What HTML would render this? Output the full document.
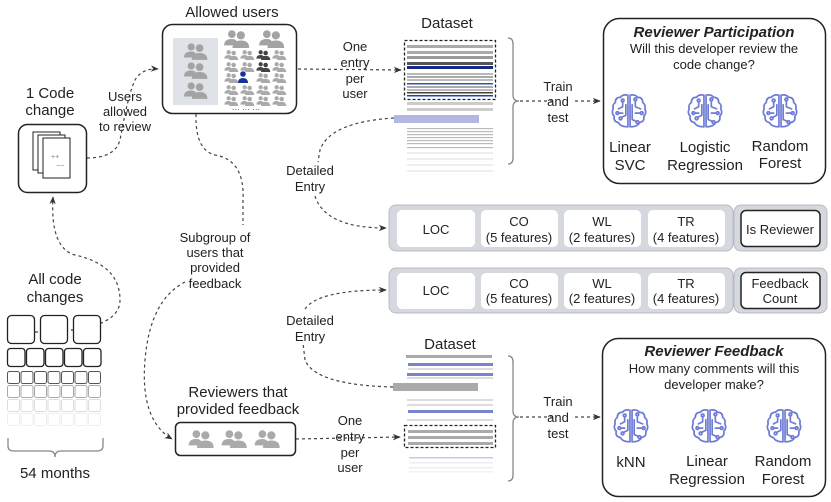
<!DOCTYPE html>
<html><head><meta charset="utf-8"><style>
html,body{margin:0;padding:0;background:#fff}
svg{display:block}
text{font-family:"Liberation Sans",Arial,sans-serif;fill:#222}
</style></head><body>
<svg width="831" height="502" viewBox="0 0 831 502" xmlns="http://www.w3.org/2000/svg">
<defs>
<symbol id="pp" viewBox="0 0 20 14">
<circle cx="6" cy="3.2" r="3" fill="currentColor"/>
<path d="M0 12 Q0 7 6 7 Q9 7 10 9 L10 12Z" fill="currentColor"/>
<circle cx="13" cy="4.2" r="3.2" fill="currentColor"/>
<path d="M6.5 14 Q6.5 8.2 13 8.2 Q19.5 8.2 19.5 14Z" fill="currentColor"/>
</symbol>
<symbol id="br" viewBox="0 0 36 36">
<g fill="none" stroke="#6e7bd6" stroke-width="1.6" stroke-linecap="round" stroke-linejoin="round">
<path d="M17 3 Q12 2 10 5 Q5 5 5 10 Q2 12 3 16 Q1 20 4 23 Q3 28 8 29 Q10 33 17 33 Z"/>
<path d="M19 3 Q24 2 26 5 Q31 5 31 10 Q34 12 33 16 Q35 20 32 23 Q33 28 28 29 Q26 33 19 33 Z"/>
<path d="M12 9 L12 14 L8 16"/><circle cx="12" cy="8" r="1.3"/>
<path d="M15 12 L15 22 L11 24"/><circle cx="10" cy="25" r="1.3"/>
<path d="M8 20 L12 20"/><circle cx="7" cy="20" r="1.3"/>
<path d="M24 8 L24 14 L29 16"/><circle cx="24" cy="7" r="1.3"/>
<path d="M21 12 L21 26 L25 28"/><circle cx="26" cy="28.5" r="1.3"/>
<path d="M24 20 L29 20"/><circle cx="30" cy="20" r="1.3"/>
</g>
</symbol>
<marker id="ah" viewBox="0 0 10 10" refX="9" refY="5" markerWidth="8" markerHeight="8" orient="auto-start-reverse" markerUnits="userSpaceOnUse">
<path d="M0 1 L10 5 L0 9 L3 5Z" fill="#333"/>
</marker>
</defs>

<!-- dashed connectors -->
<g fill="none" stroke="#444" stroke-width="1.2" stroke-dasharray="3,3">
<path d="M87 158 Q115 158 120 140 Q128 95 135 80 Q142 68 158 69" marker-end="url(#ah)"/>
<path d="M298 69 L401 70" marker-end="url(#ah)"/>
<path d="M196 114 Q195 150 215 155 Q245 160 243 200 L243 225"/>
<path d="M35 332 Q120 332 120 300 Q120 265 75 255 Q50 248 53 197" marker-end="url(#ah)"/>
<path d="M185 282 Q150 300 145 360 Q140 420 172 439" marker-end="url(#ah)"/>
<path d="M394 118 Q330 122 320 150 L318 162"/>
<path d="M315 196 Q325 228 386 228" marker-end="url(#ah)"/>
<path d="M296 439 L400 437" marker-end="url(#ah)"/>
<path d="M393 387 Q315 385 305 360 L303 343"/>
<path d="M305 309 Q318 290 386 290" marker-end="url(#ah)"/>
<path d="M520 101 L554 101"/>
<path d="M575 101 L600 101" marker-end="url(#ah)"/>
<path d="M520 417 L554 417"/>
<path d="M575 417 L600 417" marker-end="url(#ah)"/>
</g>

<!-- 1 code change -->
<text x="50" y="98" font-size="15" text-anchor="middle">1 Code</text>
<text x="50" y="115" font-size="15" text-anchor="middle">change</text>
<rect x="18.5" y="124.5" width="68" height="68" rx="9" fill="#fff" stroke="#222" stroke-width="1.5"/>
<rect x="33" y="132" width="27" height="38" fill="#fff" stroke="#222" stroke-width="1"/>
<rect x="38" y="135" width="27" height="38" fill="#fff" stroke="#222" stroke-width="1"/>
<rect x="43" y="138" width="27" height="40" fill="#fff" stroke="#222" stroke-width="1"/>
<text x="51" y="159" font-size="7" fill="#777" style="fill:#777">++</text>
<text x="56" y="168" font-size="7" style="fill:#777">−−</text>
<text x="125" y="101" font-size="13" text-anchor="middle">Users</text>
<text x="125" y="116" font-size="13" text-anchor="middle">allowed</text>
<text x="125" y="131" font-size="13" text-anchor="middle">to review</text>

<!-- Allowed users -->
<text x="232" y="17" font-size="15" text-anchor="middle">Allowed users</text>
<rect x="162.5" y="24.5" width="134" height="89" rx="10" fill="#fff" stroke="#222" stroke-width="1.5"/>
<rect x="173" y="38" width="45" height="67" fill="#dfe2e6"/>
<g style="color:#a3a3a3">
<use href="#pp" x="184" y="43" width="24" height="17"/>
<use href="#pp" x="184" y="62" width="24" height="17"/>
<use href="#pp" x="184" y="82" width="24" height="17"/>
<use href="#pp" x="224" y="30" width="26" height="18"/>
<use href="#pp" x="259" y="30" width="26" height="18"/>
</g>
<g style="color:#aaa">
<use href="#pp" x="224" y="50" width="15" height="10"/><use href="#pp" x="240" y="50" width="15" height="10"/><use href="#pp" x="272" y="50" width="15" height="10"/>
<use href="#pp" x="224" y="62" width="15" height="10"/><use href="#pp" x="240" y="62" width="15" height="10"/><use href="#pp" x="272" y="62" width="15" height="10"/>
<use href="#pp" x="224" y="73" width="15" height="10"/><use href="#pp" x="256" y="73" width="15" height="10"/><use href="#pp" x="272" y="73" width="15" height="10"/>
<use href="#pp" x="224" y="85" width="15" height="10"/><use href="#pp" x="240" y="85" width="15" height="10"/><use href="#pp" x="256" y="85" width="15" height="10"/><use href="#pp" x="272" y="85" width="15" height="10"/>
<use href="#pp" x="224" y="96" width="15" height="10"/><use href="#pp" x="240" y="96" width="15" height="10"/><use href="#pp" x="256" y="96" width="15" height="10"/><use href="#pp" x="272" y="96" width="15" height="10"/>
</g>
<g style="color:#444">
<use href="#pp" x="256" y="50" width="15" height="10"/><use href="#pp" x="256" y="62" width="15" height="10"/>
</g>
<circle cx="243" cy="74" r="2.8" fill="#16339a"/>
<path d="M238 83 Q238 78 243 78 Q248 78 248 83Z" fill="#16339a"/>
<text x="246" y="112" font-size="8" text-anchor="middle" style="fill:#333">··· ··· ···</text>

<text x="355" y="51" font-size="13" text-anchor="middle">One</text>
<text x="355" y="67" font-size="13" text-anchor="middle">entry</text>
<text x="355" y="83" font-size="13" text-anchor="middle">per</text>
<text x="355" y="98" font-size="13" text-anchor="middle">user</text>

<!-- Dataset 1 -->
<text x="447" y="28" font-size="15" text-anchor="middle">Dataset</text>
<g>
<rect x="407" y="45" width="86" height="3" fill="#aaa"/>
<rect x="407" y="51" width="86" height="3" fill="#aaa"/>
<rect x="407" y="56" width="86" height="3" fill="#999"/>
<rect x="407" y="62" width="86" height="3" fill="#555"/>
<rect x="407" y="66" width="86" height="3" fill="#15288a"/>
<rect x="407" y="73" width="86" height="2" fill="#bbb"/>
<rect x="407" y="76" width="86" height="2" fill="#aaa"/>
<rect x="407" y="79" width="86" height="2" fill="#bbb"/>
<rect x="407" y="83" width="86" height="1.5" fill="#3050c0"/>
<rect x="407" y="86" width="86" height="2" fill="#aaa"/>
<rect x="407" y="89" width="86" height="2" fill="#bbb"/>
<rect x="407" y="92" width="86" height="1.5" fill="#444"/>
<rect x="407" y="95" width="86" height="1.5" fill="#2040b0"/>
<rect x="407" y="102" width="86" height="3" fill="#ccc"/>
<rect x="407" y="108" width="86" height="3" fill="#ccc"/>
<rect x="394" y="115" width="85" height="8" fill="#b3b8e0"/>
<rect x="407" y="128" width="86" height="1.2" fill="#bbb"/>
<rect x="407" y="131" width="86" height="1.2" fill="#bbb"/>
<rect x="407" y="134" width="86" height="1.2" fill="#bbb"/>
<rect x="407" y="137" width="86" height="1.2" fill="#b3b8e0"/>
<rect x="407" y="140" width="86" height="1.2" fill="#bbb"/>
<rect x="407" y="143" width="86" height="1.2" fill="#bbb"/>
<rect x="407" y="147" width="86" height="1.2" fill="#b3b8e0"/>
<rect x="407" y="152" width="86" height="2" fill="#eee"/>
<rect x="407" y="158" width="86" height="2" fill="#eee"/>
<rect x="407" y="164" width="86" height="2" fill="#eee"/>
<rect x="407" y="170" width="86" height="2" fill="#eee"/>
<rect x="404.5" y="40.5" width="91" height="59" fill="none" stroke="#222" stroke-width="1.3" stroke-dasharray="3,2"/>
</g>
<path d="M508 38 Q513 38 513 44 L513 95 Q513 101 519 101 Q513 101 513 107 L513 158 Q513 164 508 164" fill="none" stroke="#888" stroke-width="1.3"/>
<text x="558" y="91" font-size="13" text-anchor="middle">Train</text>
<text x="558" y="106" font-size="13" text-anchor="middle">and</text>
<text x="558" y="122" font-size="13" text-anchor="middle">test</text>

<!-- Reviewer Participation -->
<rect x="603.5" y="18.5" width="222" height="165" rx="16" fill="#fff" stroke="#222" stroke-width="1.5"/>
<text x="714" y="37" font-size="15" font-weight="bold" font-style="italic" text-anchor="middle">Reviewer Participation</text>
<text x="714" y="53" font-size="13" text-anchor="middle">Will this developer review the</text>
<text x="714" y="69" font-size="13" text-anchor="middle">code change?</text>
<use href="#br" x="610" y="92" width="38" height="38"/>
<use href="#br" x="686" y="92" width="38" height="38"/>
<use href="#br" x="761" y="92" width="38" height="38"/>
<text x="630" y="152" font-size="15" text-anchor="middle">Linear</text>
<text x="630" y="170" font-size="15" text-anchor="middle">SVC</text>
<text x="705" y="152" font-size="15" text-anchor="middle">Logistic</text>
<text x="705" y="170" font-size="15" text-anchor="middle">Regression</text>
<text x="780" y="151" font-size="15" text-anchor="middle">Random</text>
<text x="780" y="168" font-size="15" text-anchor="middle">Forest</text>

<!-- Feature rows -->
<g>
<rect x="389" y="205" width="344" height="46" rx="7" fill="#d5d9df" stroke="#b8bcc2"/>
<rect x="734" y="205" width="93" height="46" rx="7" fill="#d5d9df" stroke="#b8bcc2"/>
<rect x="397" y="210" width="78" height="37" rx="5" fill="#fff"/>
<rect x="481" y="210" width="77" height="37" rx="5" fill="#fff"/>
<rect x="564" y="210" width="77" height="37" rx="5" fill="#fff"/>
<rect x="648" y="210" width="77" height="37" rx="5" fill="#fff"/>
<rect x="741" y="210.5" width="79" height="36" rx="5" fill="#fff" stroke="#222" stroke-width="1.5"/>
<text x="436" y="234" font-size="13" text-anchor="middle">LOC</text>
<text x="519" y="226" font-size="13" text-anchor="middle">CO</text>
<text x="519" y="242" font-size="13" text-anchor="middle">(5 features)</text>
<text x="602" y="226" font-size="13" text-anchor="middle">WL</text>
<text x="602" y="242" font-size="13" text-anchor="middle">(2 features)</text>
<text x="686" y="226" font-size="13" text-anchor="middle">TR</text>
<text x="686" y="242" font-size="13" text-anchor="middle">(4 features)</text>
<text x="780" y="234" font-size="13" text-anchor="middle">Is Reviewer</text>

<rect x="389" y="268" width="344" height="45" rx="7" fill="#d5d9df" stroke="#b8bcc2"/>
<rect x="734" y="268" width="93" height="45" rx="7" fill="#d5d9df" stroke="#b8bcc2"/>
<rect x="397" y="273" width="78" height="36" rx="5" fill="#fff"/>
<rect x="481" y="273" width="77" height="36" rx="5" fill="#fff"/>
<rect x="564" y="273" width="77" height="36" rx="5" fill="#fff"/>
<rect x="648" y="273" width="77" height="36" rx="5" fill="#fff"/>
<rect x="741" y="272.5" width="79" height="36" rx="5" fill="#fff" stroke="#222" stroke-width="1.5"/>
<text x="436" y="295" font-size="13" text-anchor="middle">LOC</text>
<text x="519" y="288" font-size="13" text-anchor="middle">CO</text>
<text x="519" y="303" font-size="13" text-anchor="middle">(5 features)</text>
<text x="602" y="288" font-size="13" text-anchor="middle">WL</text>
<text x="602" y="303" font-size="13" text-anchor="middle">(2 features)</text>
<text x="686" y="288" font-size="13" text-anchor="middle">TR</text>
<text x="686" y="303" font-size="13" text-anchor="middle">(4 features)</text>
<text x="780" y="288" font-size="13" text-anchor="middle">Feedback</text>
<text x="780" y="303" font-size="13" text-anchor="middle">Count</text>
</g>

<text x="310" y="175" font-size="13" text-anchor="middle">Detailed</text>
<text x="310" y="191" font-size="13" text-anchor="middle">Entry</text>
<text x="310" y="325" font-size="13" text-anchor="middle">Detailed</text>
<text x="310" y="341" font-size="13" text-anchor="middle">Entry</text>

<text x="215" y="242" font-size="13" text-anchor="middle">Subgroup of</text>
<text x="215" y="257" font-size="13" text-anchor="middle">users that</text>
<text x="215" y="272" font-size="13" text-anchor="middle">provided</text>
<text x="215" y="288" font-size="13" text-anchor="middle">feedback</text>

<!-- All code changes -->
<text x="55" y="284" font-size="15" text-anchor="middle">All code</text>
<text x="55" y="302" font-size="15" text-anchor="middle">changes</text>
<g fill="#fff" stroke-width="1.3">
<rect x="7.5" y="315.5" width="27" height="28" rx="4" stroke="#222"/>
<rect x="40.5" y="315.5" width="27" height="28" rx="4" stroke="#222"/>
<rect x="73.5" y="315.5" width="27" height="28" rx="4" stroke="#222"/>
<rect x="7.5" y="348.5" width="17.5" height="18" rx="3" stroke="#222"/>
<rect x="26.5" y="348.5" width="17.5" height="18" rx="3" stroke="#222"/>
<rect x="45.5" y="348.5" width="17.5" height="18" rx="3" stroke="#222"/>
<rect x="64.5" y="348.5" width="17.5" height="18" rx="3" stroke="#222"/>
<rect x="83.5" y="348.5" width="17.5" height="18" rx="3" stroke="#222"/>
</g>
<g fill="#fff" stroke-width="1">
<g stroke="#555"><rect x="7.5" y="371.5" width="12" height="12" rx="2"/><rect x="21" y="371.5" width="12" height="12" rx="2"/><rect x="34.5" y="371.5" width="12" height="12" rx="2"/><rect x="48" y="371.5" width="12" height="12" rx="2"/><rect x="61.5" y="371.5" width="12" height="12" rx="2"/><rect x="75" y="371.5" width="12" height="12" rx="2"/><rect x="88.5" y="371.5" width="12" height="12" rx="2"/></g>
<g stroke="#aaa"><rect x="7.5" y="385.5" width="12" height="12" rx="2"/><rect x="21" y="385.5" width="12" height="12" rx="2"/><rect x="34.5" y="385.5" width="12" height="12" rx="2"/><rect x="48" y="385.5" width="12" height="12" rx="2"/><rect x="61.5" y="385.5" width="12" height="12" rx="2"/><rect x="75" y="385.5" width="12" height="12" rx="2"/><rect x="88.5" y="385.5" width="12" height="12" rx="2"/></g>
<g stroke="#ddd"><rect x="7.5" y="399.5" width="12" height="12" rx="2"/><rect x="21" y="399.5" width="12" height="12" rx="2"/><rect x="34.5" y="399.5" width="12" height="12" rx="2"/><rect x="48" y="399.5" width="12" height="12" rx="2"/><rect x="61.5" y="399.5" width="12" height="12" rx="2"/><rect x="75" y="399.5" width="12" height="12" rx="2"/><rect x="88.5" y="399.5" width="12" height="12" rx="2"/></g>
<g stroke="#eee"><rect x="7.5" y="413.5" width="12" height="12" rx="2"/><rect x="21" y="413.5" width="12" height="12" rx="2"/><rect x="34.5" y="413.5" width="12" height="12" rx="2"/><rect x="48" y="413.5" width="12" height="12" rx="2"/><rect x="61.5" y="413.5" width="12" height="12" rx="2"/><rect x="75" y="413.5" width="12" height="12" rx="2"/><rect x="88.5" y="413.5" width="12" height="12" rx="2"/></g>
</g>
<path d="M8 438 L8 446 Q8 451 14 451 L49 451 Q55 451 55 457 Q55 451 61 451 L97 451 Q103 451 103 446 L103 438" fill="none" stroke="#888" stroke-width="1.3"/>
<text x="55" y="478" font-size="15" text-anchor="middle">54 months</text>

<!-- Reviewers that provided feedback -->
<text x="238" y="397" font-size="15" text-anchor="middle">Reviewers that</text>
<text x="238" y="414" font-size="15" text-anchor="middle">provided feedback</text>
<rect x="175.5" y="422.5" width="120" height="33" rx="5" fill="#fff" stroke="#222" stroke-width="1.5"/>
<g style="color:#aaa">
<use href="#pp" x="188" y="430" width="27" height="18"/>
<use href="#pp" x="221" y="430" width="27" height="18"/>
<use href="#pp" x="254" y="430" width="27" height="18"/>
</g>
<text x="350" y="425" font-size="13" text-anchor="middle">One</text>
<text x="350" y="441" font-size="13" text-anchor="middle">entry</text>
<text x="350" y="457" font-size="13" text-anchor="middle">per</text>
<text x="350" y="472" font-size="13" text-anchor="middle">user</text>

<!-- Dataset 2 -->
<text x="450" y="349" font-size="15" text-anchor="middle">Dataset</text>
<rect x="406" y="355" width="86" height="3" fill="#aaa"/>
<rect x="408" y="363" width="85" height="3" fill="#7a84cc"/>
<rect x="408" y="368" width="85" height="2" fill="#ddd"/>
<rect x="407" y="373" width="86" height="3" fill="#7a84cc"/>
<rect x="407" y="377" width="86" height="2" fill="#ddd"/>
<rect x="393" y="383" width="85" height="8" fill="#aaa"/>
<rect x="407" y="399" width="86" height="2" fill="#ddd"/>
<rect x="407" y="404" width="86" height="2" fill="#ddd"/>
<rect x="408" y="410" width="85" height="3" fill="#7a84cc"/>
<rect x="407" y="419" width="86" height="2" fill="#ddd"/>
<rect x="408" y="430" width="85" height="3" fill="#aaa"/>
<rect x="408" y="436" width="85" height="3" fill="#aaa"/>
<rect x="408" y="442" width="85" height="3" fill="#aaa"/>
<rect x="404.5" y="425.5" width="91" height="22" fill="none" stroke="#222" stroke-width="1.3" stroke-dasharray="3,2"/>
<rect x="409" y="457" width="84" height="1.5" fill="#c5c9ec"/>
<rect x="409" y="462" width="84" height="1.5" fill="#eee"/>
<rect x="409" y="467" width="84" height="1.5" fill="#eee"/>
<rect x="409" y="471" width="84" height="1.5" fill="#f2f2f2"/>
<path d="M508 356 Q513 356 513 362 L513 411 Q513 417 519 417 Q513 417 513 423 L513 475 Q513 481 508 481" fill="none" stroke="#888" stroke-width="1.3"/>
<text x="558" y="406" font-size="13" text-anchor="middle">Train</text>
<text x="558" y="422" font-size="13" text-anchor="middle">and</text>
<text x="558" y="438" font-size="13" text-anchor="middle">test</text>

<!-- Reviewer Feedback -->
<rect x="602.5" y="338.5" width="223" height="158" rx="16" fill="#fff" stroke="#222" stroke-width="1.5"/>
<text x="714" y="356" font-size="15" font-weight="bold" font-style="italic" text-anchor="middle">Reviewer Feedback</text>
<text x="714" y="373" font-size="13" text-anchor="middle">How many comments will this</text>
<text x="714" y="389" font-size="13" text-anchor="middle">developer make?</text>
<use href="#br" x="612" y="407" width="38" height="38"/>
<use href="#br" x="690" y="407" width="38" height="38"/>
<use href="#br" x="765" y="407" width="38" height="38"/>
<text x="631" y="467" font-size="15" text-anchor="middle">kNN</text>
<text x="707" y="466" font-size="15" text-anchor="middle">Linear</text>
<text x="707" y="484" font-size="15" text-anchor="middle">Regression</text>
<text x="783" y="466" font-size="15" text-anchor="middle">Random</text>
<text x="783" y="484" font-size="15" text-anchor="middle">Forest</text>
</svg>
</body></html>
